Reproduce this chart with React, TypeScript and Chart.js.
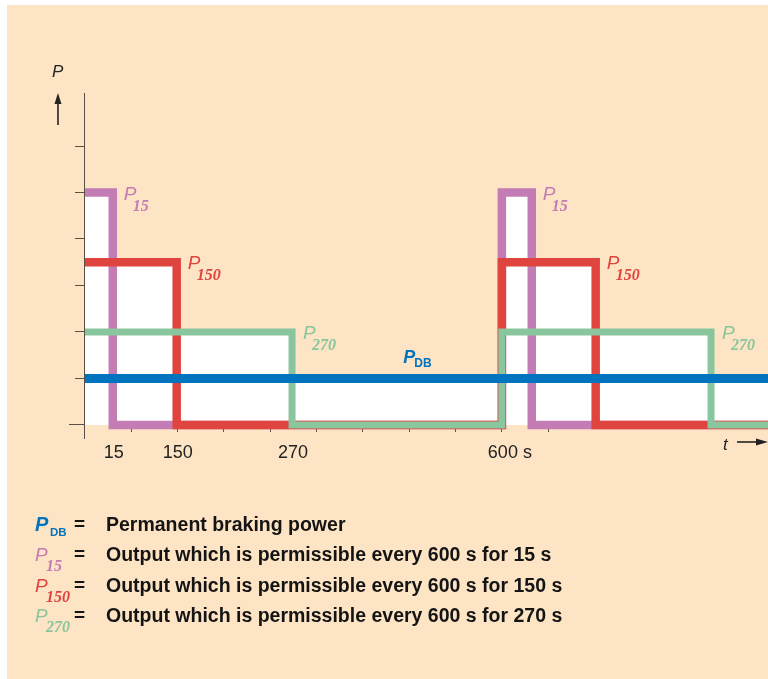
import React, { useEffect, useRef } from 'react';
import { Chart, registerables } from 'chart.js';

Chart.register(...registerables);

const CANVAS_W = 768;
const CANVAS_H = 679;

// schematic time axis (seconds) and power axis (relative units)
const timeRange = [-23, 983];
const powerRange = [-0.28, 7.14];
const timeTicks = [0, 66.7, 133.3, 200, 266.7, 333.3, 400, 466.7, 533.3, 600, 666.7];
const powerTicks = [0, 1, 2, 3, 4, 5, 6];

// step series: each level holds from its time to the next time
const pdbTimes = [0, 983];
const pdbLevels = [1, 1];
const p15Times = [0, 40, 600, 643, 983];
const p15Levels = [5, 0, 5, 0, 0];
const p150Times = [0, 132, 600, 735, 983];
const p150Levels = [3.5, 0, 3.5, 0, 0];
const p270Times = [0, 298, 600, 901, 983];
const p270Levels = [2, 0, 2, 0, 0];

const axisMarkTimes = [40, 132, 298, 600];
const axisMarkLabels = ['15', '150', '270', '600'];
const pdbLabelTime = 458;

const legendSubs = ['DB', '15', '150', '270'];
const legendTexts = [
  'Permanent braking power',
  'Output which is permissible every 600 s for 15 s',
  'Output which is permissible every 600 s for 150 s',
  'Output which is permissible every 600 s for 270 s',
];

const COLORS = {
  bg: '#FDE4C4',
  db: '#0074BE',
  p15: '#C47DB4',
  p150: '#E0443F',
  p270: '#89C59D',
  axis: '#5a5048',
  text: '#141414',
};

const SANS = '"Liberation Sans", Arial, sans-serif';
const SERIF = '"Liberation Serif", "Times New Roman", serif';

function toPoints(times: number[], levels: number[]) {
  return times.map((t, i) => ({ x: t, y: levels[i] }));
}

function drawSym(
  ctx: CanvasRenderingContext2D,
  x: number,
  base: number,
  color: string,
  mainFont: string,
  sub: string,
  subFont: string,
  subDx: number,
  subDy: number
) {
  ctx.fillStyle = color;
  ctx.textAlign = 'left';
  ctx.textBaseline = 'alphabetic';
  ctx.font = mainFont;
  ctx.fillText('P', x, base);
  ctx.font = subFont;
  ctx.fillText(sub, x + subDx, base + subDy);
}

const bgPlugin = {
  id: 'peachBg',
  beforeDraw(chart: any) {
    const ctx = chart.ctx as CanvasRenderingContext2D;
    ctx.save();
    ctx.fillStyle = '#ffffff';
    ctx.fillRect(0, 0, chart.width, chart.height);
    ctx.fillStyle = COLORS.bg;
    ctx.fillRect(7, 5, chart.width - 7, chart.height - 5);
    ctx.restore();
  },
};

const seriesInfo = [
  { times: p15Times, levels: p15Levels, color: COLORS.p15, sub: '15' },
  { times: p150Times, levels: p150Levels, color: COLORS.p150, sub: '150' },
  { times: p270Times, levels: p270Levels, color: COLORS.p270, sub: '270' },
];

const labelPlugin = {
  id: 'annotations',
  afterDatasetsDraw(chart: any) {
    const ctx = chart.ctx as CanvasRenderingContext2D;
    const xs = chart.scales.x;
    const ys = chart.scales.y;
    const area = chart.chartArea;
    ctx.save();

    // series labels at the falling edges
    seriesInfo.forEach((s) => {
      for (let i = 1; i < s.times.length; i++) {
        if (s.levels[i - 1] > 0 && s.levels[i] === 0) {
          const px = xs.getPixelForValue(s.times[i]) + 11;
          const py = ys.getPixelForValue(s.levels[i - 1]) + 7;
          drawSym(ctx, px, py, s.color, `italic 19px ${SANS}`, s.sub, `bold italic 16px ${SERIF}`, 9, 11);
        }
      }
    });

    // P_DB label
    {
      const px = xs.getPixelForValue(pdbLabelTime);
      const py = ys.getPixelForValue(pdbLevels[0]) - 15;
      drawSym(ctx, px, py, COLORS.db, `bold italic 18px ${SANS}`, 'DB', `bold 12px ${SANS}`, 11, 4);
    }

    // x axis labels
    ctx.fillStyle = '#222';
    ctx.font = `18px ${SANS}`;
    ctx.textBaseline = 'alphabetic';
    const zeroY = ys.getPixelForValue(0);
    axisMarkTimes.forEach((t, i) => {
      const px = xs.getPixelForValue(t);
      ctx.textAlign = 'center';
      ctx.fillText(axisMarkLabels[i], px + 1, zeroY + 33);
      if (i === axisMarkTimes.length - 1) {
        const w = ctx.measureText(axisMarkLabels[i]).width;
        ctx.textAlign = 'left';
        ctx.fillText(' s', px + 1 + w / 2, zeroY + 33);
      }
    });

    // axis name P with up arrow
    const yAxisX = xs.getPixelForValue(0);
    ctx.fillStyle = '#222';
    ctx.font = `italic 17px ${SANS}`;
    ctx.textAlign = 'left';
    ctx.fillText('P', yAxisX - 33, area.top - 16);
    const ax = yAxisX - 27;
    ctx.strokeStyle = '#222';
    ctx.lineWidth = 1.6;
    ctx.beginPath();
    ctx.moveTo(ax, area.top + 32);
    ctx.lineTo(ax, area.top + 8);
    ctx.stroke();
    ctx.beginPath();
    ctx.moveTo(ax, area.top);
    ctx.lineTo(ax - 3.5, area.top + 11);
    ctx.lineTo(ax + 3.5, area.top + 11);
    ctx.closePath();
    ctx.fill();

    // axis name t with right arrow
    ctx.font = `italic 17px ${SANS}`;
    ctx.fillText('t', area.right - 45, zeroY + 25);
    const ay = zeroY + 17;
    ctx.beginPath();
    ctx.moveTo(area.right - 31, ay);
    ctx.lineTo(area.right - 8, ay);
    ctx.stroke();
    ctx.beginPath();
    ctx.moveTo(area.right, ay);
    ctx.lineTo(area.right - 12, ay - 3.5);
    ctx.lineTo(area.right - 12, ay + 3.5);
    ctx.closePath();
    ctx.fill();

    // legend block
    const legendColors = [COLORS.db, COLORS.p15, COLORS.p150, COLORS.p270];
    const rowBase = [531, 561, 592, 622];
    legendTexts.forEach((txt, i) => {
      const b = rowBase[i];
      if (i === 0) {
        drawSym(ctx, 35, b, legendColors[i], `bold italic 20px ${SANS}`, legendSubs[i], `bold 11.5px ${SANS}`, 15, 5);
      } else {
        drawSym(ctx, 35, b, legendColors[i], `italic 19px ${SANS}`, legendSubs[i], `bold italic 16px ${SERIF}`, 11, 10);
      }
      ctx.fillStyle = COLORS.text;
      ctx.font = `bold 19px ${SANS}`;
      ctx.textAlign = 'left';
      ctx.fillText('=', 74, b - 1);
      ctx.font = `bold 19.5px ${SANS}`;
      ctx.fillText(txt, 106, b);
    });

    ctx.restore();
  },
};

export default function App() {
  const ref = useRef<HTMLCanvasElement | null>(null);

  useEffect(() => {
    const canvas = ref.current;
    if (!canvas) return;
    const common = {
      stepped: 'before' as const,
      fill: 'origin',
      backgroundColor: '#ffffff',
      pointRadius: 0,
      borderJoinStyle: 'miter' as const,
      borderCapStyle: 'butt' as const,
    };
    const chart = new Chart(canvas, {
      type: 'line',
      data: {
        datasets: [
          { ...common, label: 'P_DB', data: toPoints(pdbTimes, pdbLevels), borderColor: COLORS.db, borderWidth: 9 },
          { ...common, label: 'P_270', data: toPoints(p270Times, p270Levels), borderColor: COLORS.p270, borderWidth: 7 },
          { ...common, label: 'P_150', data: toPoints(p150Times, p150Levels), borderColor: COLORS.p150, borderWidth: 8.5 },
          { ...common, label: 'P_15', data: toPoints(p15Times, p15Levels), borderColor: COLORS.p15, borderWidth: 8.5 },
        ] as any,
      },
      options: {
        animation: false,
        responsive: false,
        layout: { padding: { left: 69, top: 93, right: 0, bottom: 241 } },
        plugins: {
          legend: { display: false },
          tooltip: { enabled: false },
          filler: { drawTime: 'beforeDatasetsDraw' },
        } as any,
        scales: {
          x: {
            type: 'linear',
            min: timeRange[0],
            max: timeRange[1],
            position: { y: 0 } as any,
            grid: { drawOnChartArea: false, drawTicks: true, tickLength: 7, color: COLORS.axis, lineWidth: 1 },
            border: { display: true, color: COLORS.axis, width: 1 },
            ticks: { display: false },
            afterBuildTicks: (s: any) => {
              s.ticks = timeTicks.map((v) => ({ value: v }));
            },
          },
          y: {
            type: 'linear',
            min: powerRange[0],
            max: powerRange[1],
            position: { x: 0 } as any,
            grid: { drawOnChartArea: false, drawTicks: true, tickLength: 9, color: COLORS.axis, lineWidth: 1 },
            border: { display: true, color: COLORS.axis, width: 1 },
            ticks: { display: false },
            afterBuildTicks: (s: any) => {
              s.ticks = powerTicks.map((v) => ({ value: v }));
            },
          },
        } as any,
      },
      plugins: [bgPlugin, labelPlugin],
    });
    return () => chart.destroy();
  }, []);

  return (
    <div style={{ position: 'fixed', left: 0, top: 0, width: CANVAS_W, height: CANVAS_H }}>
      <canvas ref={ref} width={CANVAS_W} height={CANVAS_H} style={{ width: CANVAS_W, height: CANVAS_H, display: 'block' }} />
    </div>
  );
}
